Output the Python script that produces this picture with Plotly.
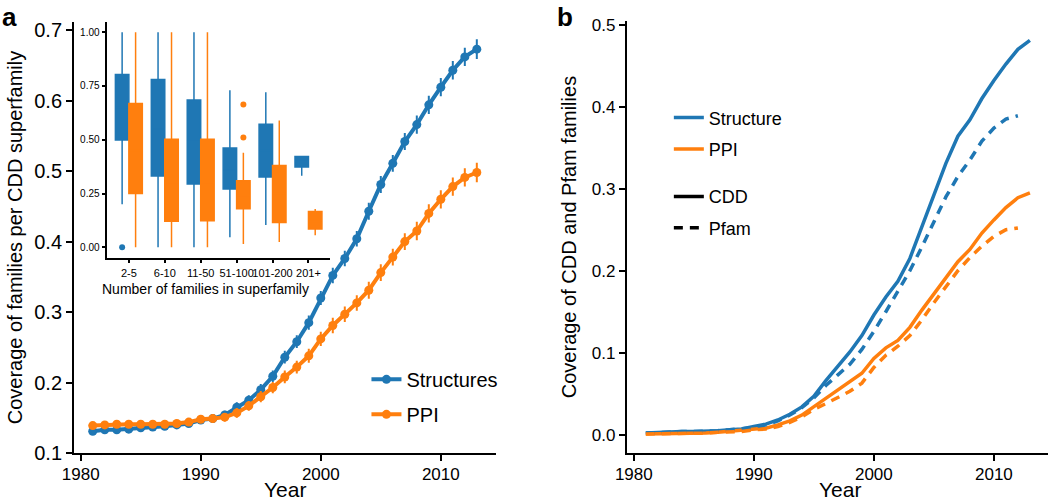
import plotly.graph_objects as go

# ---- panel a: coverage per CDD superfamily ----
years_a = list(range(1981, 2014))
struct_a = [0.131, 0.133, 0.133, 0.134, 0.136, 0.137, 0.138, 0.140, 0.142, 0.147,
            0.149, 0.154, 0.165, 0.175, 0.190, 0.209, 0.236, 0.258, 0.285, 0.320,
            0.352, 0.376, 0.404, 0.443, 0.481, 0.511, 0.542, 0.566, 0.594, 0.619,
            0.643, 0.662, 0.673]
struct_err = [0.004, 0.004, 0.004, 0.004, 0.004, 0.004, 0.004, 0.005, 0.005, 0.005,
              0.006, 0.006, 0.007, 0.007, 0.008, 0.008, 0.009, 0.009, 0.010, 0.010,
              0.011, 0.011, 0.011, 0.012, 0.012, 0.012, 0.012, 0.013, 0.013, 0.013,
              0.013, 0.013, 0.014]
ppi_a = [0.139, 0.140, 0.141, 0.141, 0.141, 0.141, 0.141, 0.142, 0.144, 0.148,
         0.149, 0.151, 0.157, 0.167, 0.180, 0.193, 0.208, 0.222, 0.238, 0.262,
         0.281, 0.297, 0.313, 0.331, 0.356, 0.378, 0.400, 0.415, 0.440, 0.460,
         0.478, 0.491, 0.498]
ppi_err = [0.004, 0.004, 0.004, 0.004, 0.004, 0.004, 0.004, 0.005, 0.005, 0.005,
           0.006, 0.006, 0.007, 0.007, 0.008, 0.008, 0.009, 0.009, 0.010, 0.010,
           0.011, 0.011, 0.011, 0.012, 0.012, 0.012, 0.012, 0.013, 0.013, 0.013,
           0.013, 0.013, 0.014]

# ---- inset boxplot ----
size_bins = ["2-5", "6-10", "11-50", "51-100", "101-200", "201+"]
s_lo = [0.20, 0.00, 0.00, 0.047, 0.104, 0.333]
s_q1 = [0.499, 0.332, 0.295, 0.271, 0.327, 0.374]
s_med = [0.65, 0.55, 0.50, 0.36, 0.45, 0.40]
s_q3 = [0.803, 0.780, 0.685, 0.462, 0.572, 0.422]
s_hi = [1.00, 1.00, 1.00, 0.730, 0.721, 0.426]
p_lo = [0.00, 0.00, 0.00, 0.016, 0.025, 0.056]
p_q1 = [0.250, 0.121, 0.124, 0.180, 0.115, 0.085]
p_med = [0.45, 0.30, 0.30, 0.24, 0.25, 0.12]
p_q3 = [0.668, 0.502, 0.502, 0.310, 0.380, 0.167]
p_hi = [1.00, 1.00, 1.00, 0.440, 0.589, 0.178]
s_out_bin = [1]
s_out_val = [0.0]
p_out_bin = [4, 4]
p_out_val = [0.664, 0.510]

# ---- panel b: coverage of CDD and Pfam families ----
years_b = list(range(1981, 2014))
struct_cdd = [0.002, 0.003, 0.003, 0.004, 0.004, 0.004, 0.005, 0.006, 0.007, 0.010,
              0.013, 0.018, 0.025, 0.034, 0.047, 0.066, 0.083, 0.101, 0.121, 0.146,
              0.168, 0.187, 0.215, 0.254, 0.295, 0.331, 0.364, 0.384, 0.410, 0.432,
              0.452, 0.470, 0.481]
ppi_cdd = [0.001, 0.001, 0.002, 0.002, 0.002, 0.002, 0.003, 0.004, 0.005, 0.007,
           0.008, 0.012, 0.017, 0.024, 0.034, 0.045, 0.054, 0.064, 0.075, 0.093,
           0.106, 0.115, 0.131, 0.152, 0.172, 0.192, 0.211, 0.226, 0.246, 0.262,
           0.277, 0.289, 0.295]
years_pfam = list(range(1981, 2013))
struct_pfam = [0.002, 0.003, 0.003, 0.004, 0.004, 0.004, 0.005, 0.006, 0.007, 0.009,
               0.012, 0.017, 0.024, 0.033, 0.045, 0.060, 0.073, 0.086, 0.104, 0.126,
               0.150, 0.174, 0.200, 0.229, 0.259, 0.290, 0.315, 0.335, 0.358, 0.374,
               0.385, 0.389]
ppi_pfam = [0.001, 0.001, 0.001, 0.002, 0.002, 0.002, 0.003, 0.003, 0.004, 0.006,
            0.007, 0.010, 0.015, 0.022, 0.031, 0.038, 0.045, 0.053, 0.063, 0.082,
            0.097, 0.108, 0.121, 0.140, 0.161, 0.181, 0.200, 0.216, 0.230, 0.242,
            0.250, 0.252]

BLUE = "#1f77b4"
ORANGE = "#ff7f0e"
FONT = "Liberation Sans, Arial, sans-serif"

fig = go.Figure()

# panel a lines with error bars
for name, vals, err, col in [("Structures", struct_a, struct_err, BLUE),
                             ("PPI", ppi_a, ppi_err, ORANGE)]:
    fig.add_trace(go.Scatter(
        x=years_a, y=vals, name=name, mode="lines+markers",
        line=dict(color=col, width=4), marker=dict(color=col, size=9),
        error_y=dict(type="data", array=err, color=col, thickness=2, width=0),
        xaxis="x", yaxis="y", legend="legend", legendgroup="a_" + name))

# inset boxes (numeric x, dodged)
for lo, q1, med, q3, hi, col, off in [
        (s_lo, s_q1, s_med, s_q3, s_hi, BLUE, -0.1875),
        (p_lo, p_q1, p_med, p_q3, p_hi, ORANGE, 0.1875)]:
    fig.add_trace(go.Box(
        x=[i + 1 + off for i in range(len(size_bins))],
        lowerfence=lo, q1=q1, median=med, q3=q3, upperfence=hi,
        width=0.375, whiskerwidth=0, fillcolor=col,
        line=dict(color=col, width=1.5), boxpoints=False,
        showlegend=False, xaxis="x3", yaxis="y3"))

fig.add_trace(go.Scatter(x=[b - 0.1875 for b in s_out_bin], y=s_out_val, mode="markers",
                         marker=dict(color=BLUE, size=6), showlegend=False,
                         xaxis="x3", yaxis="y3"))
fig.add_trace(go.Scatter(x=[b + 0.1875 for b in p_out_bin], y=p_out_val, mode="markers",
                         marker=dict(color=ORANGE, size=6), showlegend=False,
                         xaxis="x3", yaxis="y3"))

# panel b
fig.add_trace(go.Scatter(x=years_b, y=struct_cdd, name="Structure", mode="lines",
                         line=dict(color=BLUE, width=3.5), xaxis="x2", yaxis="y2",
                         legend="legend2", legendgroup="b_s"))
fig.add_trace(go.Scatter(x=years_b, y=ppi_cdd, name="PPI", mode="lines",
                         line=dict(color=ORANGE, width=3.5), xaxis="x2", yaxis="y2",
                         legend="legend2", legendgroup="b_p"))
fig.add_trace(go.Scatter(x=years_pfam, y=struct_pfam, mode="lines", showlegend=False,
                         line=dict(color=BLUE, width=3.5, dash="9px,7px"),
                         xaxis="x2", yaxis="y2"))
fig.add_trace(go.Scatter(x=years_pfam, y=ppi_pfam, mode="lines", showlegend=False,
                         line=dict(color=ORANGE, width=3.5, dash="9px,7px"),
                         xaxis="x2", yaxis="y2"))
fig.add_trace(go.Scatter(x=[None], y=[None], name="CDD", mode="lines",
                         line=dict(color="black", width=3.5), xaxis="x2", yaxis="y2",
                         legend="legend3", legendgroup="b_cdd"))
fig.add_trace(go.Scatter(x=[None], y=[None], name="Pfam", mode="lines",
                         line=dict(color="black", width=3.5, dash="9px,7px"),
                         xaxis="x2", yaxis="y2", legend="legend3", legendgroup="b_pfam"))

axis_common = dict(showline=True, linecolor="black", linewidth=2, ticks="outside",
                   ticklen=6, tickwidth=2, tickcolor="black", showgrid=False,
                   zeroline=False, mirror=False, automargin=False)
inset_common = dict(showline=True, linecolor="black", linewidth=1.5, ticks="outside",
                    ticklen=4, tickwidth=1.5, tickcolor="black", showgrid=False,
                    zeroline=False, automargin=False)

fig.update_layout(
    width=1050, height=503,
    margin=dict(l=0, r=0, t=0, b=0),
    paper_bgcolor="white", plot_bgcolor="white",
    font=dict(family=FONT, color="black"),
    xaxis=dict(domain=[0.0705, 0.4724], range=[1979.44, 2014.6],
               tickvals=[1980, 1990, 2000, 2010], tickfont=dict(size=17),
               ticklabelstandoff=-2, anchor="y", **axis_common),
    yaxis=dict(domain=[0.0985, 0.957], range=[0.0995, 0.712],
               tickvals=[0.1, 0.2, 0.3, 0.4, 0.5, 0.6, 0.7], tickformat=".1f",
               tickfont=dict(size=20),
               title=dict(text="Coverage of families per CDD superfamily",
                          font=dict(size=20), standoff=6),
               anchor="x", **axis_common),
    xaxis2=dict(domain=[0.597, 0.998], range=[1979.42, 2014.5],
                tickvals=[1980, 1990, 2000, 2010], tickfont=dict(size=17),
                ticklabelstandoff=-2, anchor="y2", **axis_common),
    yaxis2=dict(domain=[0.0985, 0.959], range=[-0.0228, 0.505],
                tickvals=[0.0, 0.1, 0.2, 0.3, 0.4, 0.5], tickformat=".1f",
                tickfont=dict(size=17),
                title=dict(text="Coverage of CDD and Pfam families",
                           font=dict(size=20), standoff=10),
                anchor="x2", **axis_common),
    xaxis3=dict(domain=[0.1022, 0.3143], range=[0.4, 6.6],
                tickvals=[1, 2, 3, 4, 5, 6], ticktext=size_bins, tickangle=0,
                tickfont=dict(size=11), anchor="y3", **inset_common),
    yaxis3=dict(domain=[0.4877, 0.957], range=[-0.048, 1.049],
                tickvals=[0, 0.25, 0.5, 0.75, 1.0], tickformat=".2f",
                tickfont=dict(size=10),
                anchor="x3", **inset_common),
    boxmode="overlay",
    legend=dict(x=0.349, y=0.211, xanchor="left", yanchor="middle",
                font=dict(size=20), bgcolor="rgba(0,0,0,0)", tracegroupgap=6),
    legend2=dict(x=0.637, y=0.735, xanchor="left", yanchor="middle",
                 font=dict(size=18), bgcolor="rgba(0,0,0,0)", tracegroupgap=5),
    legend3=dict(x=0.637, y=0.578, xanchor="left", yanchor="middle",
                 font=dict(size=18), bgcolor="rgba(0,0,0,0)", tracegroupgap=5),
    annotations=[
        dict(text="<b>a</b>", x=0.0, y=1.0, xref="paper", yref="paper",
             xanchor="left", yanchor="top", showarrow=False, font=dict(size=26)),
        dict(text="<b>b</b>", x=0.529, y=1.0, xref="paper", yref="paper",
             xanchor="left", yanchor="top", showarrow=False, font=dict(size=26)),
        dict(text="Year", x=285 / 1050, y=0.0, xref="paper", yref="paper",
             xanchor="center", yanchor="bottom", showarrow=False, font=dict(size=21)),
        dict(text="Year", x=840 / 1050, y=0.0, xref="paper", yref="paper",
             xanchor="center", yanchor="bottom", showarrow=False, font=dict(size=21)),
        dict(text="Number of families in superfamily", x=205 / 1050, y=0.4254,
             xref="paper", yref="paper", xanchor="center", yanchor="middle",
             showarrow=False, font=dict(size=14)),
    ],
)

# the page body has a default 8px margin; remove it so the figure fills the window
fig.write_html("out.html", config={"displayModeBar": False},
               post_script="document.body.style.margin='0px';")
